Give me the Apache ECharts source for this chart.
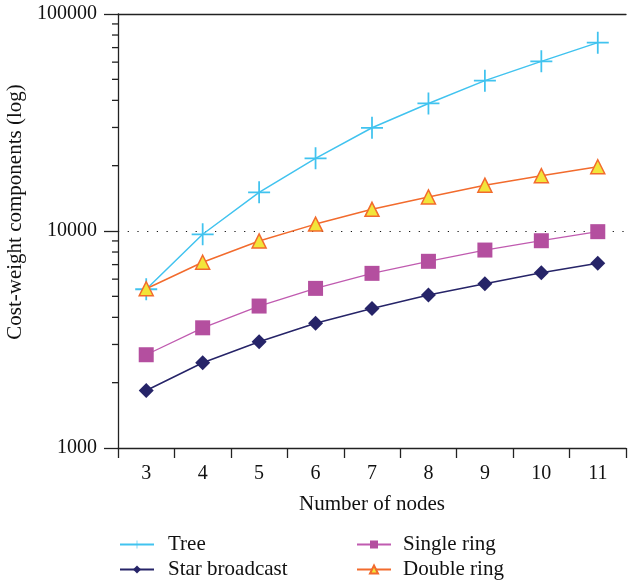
<!DOCTYPE html>
<html><head><meta charset="utf-8">
<script src="https://cdn.jsdelivr.net/npm/echarts@6/dist/echarts.min.js"></script>
<style>html,body{margin:0;padding:0;background:#fff}#c{width:629px;height:584px}</style>
</head><body><div id="c"></div>
<script>
const categories = ['3','4','5','6','7','8','9','10','11'];
const tree = [5390, 9660, 15070, 21630, 29900, 38700, 49300, 60500, 73800];
const starBroadcast = [1840, 2470, 3090, 3760, 4390, 5070, 5710, 6420, 7100];
const singleRing = [2690, 3580, 4510, 5440, 6380, 7250, 8170, 9020, 9930];
const doubleRing = [5420, 7180, 9000, 10760, 12590, 14360, 16260, 17990, 19770];
const yMinorTicks = [2000,3000,4000,5000,6000,7000,8000,9000,20000,30000,40000,50000,60000,70000,80000,90000];

const FONT = 'Liberation Serif';
const crossPath = 'path://M-0.08,-1 L0.08,-1 L0.08,-0.08 L1,-0.08 L1,0.08 L0.08,0.08 L0.08,1 L-0.08,1 L-0.08,0.08 L-1,0.08 L-1,-0.08 L-0.08,-0.08 Z';
const legendText = {fontFamily: FONT, fontSize: 21, color: '#111', padding: [0, 0, 0, 9]};

const chart = echarts.init(document.getElementById('c'));
chart.setOption({
  animation: false,
  textStyle: {fontFamily: FONT},
  grid: {left: 118, right: 3, top: 14, bottom: 136, outerBoundsMode: 'none', containLabel: false},
  legend: [
    {data: ['Tree', 'Star broadcast'], orient: 'vertical', left: 119, top: 534, padding: 0,
     itemWidth: 34, itemHeight: 10, itemGap: 4, textStyle: legendText},
    {data: ['Single ring', 'Double ring'], orient: 'vertical', left: 356, top: 534, padding: 0,
     itemWidth: 34, itemHeight: 10, itemGap: 4, textStyle: {fontFamily: FONT, fontSize: 21, color: '#111', padding: [0, 0, 0, 7]}}
  ],
  xAxis: [{
    type: 'category', data: categories, boundaryGap: true,
    name: 'Number of nodes', nameLocation: 'middle', nameGap: 46,
    nameTextStyle: {fontFamily: FONT, fontSize: 21, color: '#111'},
    axisLine: {lineStyle: {color: '#222', width: 1.3}},
    axisTick: {show: true, length: 10, lineStyle: {color: '#222', width: 1.3}},
    axisLabel: {fontFamily: FONT, fontSize: 20, color: '#111', margin: 16},
    splitLine: {show: false}
  }, {
    type: 'category', data: categories, position: 'top',
    axisLine: {lineStyle: {color: '#222', width: 1.3}},
    axisTick: {show: false}, axisLabel: {show: false}, splitLine: {show: false}
  }],
  yAxis: {
    type: 'log', logBase: 10, min: 1000, max: 100000,
    name: 'Cost-weight components (log)', nameLocation: 'middle', nameGap: 85,
    nameTextStyle: {fontFamily: FONT, fontSize: 21, color: '#111', padding: [0, 0, 0, 38]},
    axisLine: {show: true, lineStyle: {color: '#222', width: 1.3}},
    axisTick: {show: true, length: 14, lineStyle: {color: '#222', width: 1.3}},
    axisLabel: {fontFamily: FONT, fontSize: 20, color: '#111', margin: 21,
                formatter: v => String(Math.round(v))},
    splitLine: {show: true, lineStyle: {color: '#111', type: [1.2, 8.5], width: 1.2}}
  },
  series: [
    {name: 'Tree', type: 'line', data: tree, symbol: crossPath, symbolSize: 22,
     lineStyle: {color: '#41c3ef', width: 1.5}, itemStyle: {color: '#41c3ef'}, z: 3},
    {name: 'Star broadcast', type: 'line', data: starBroadcast, symbol: 'diamond', symbolSize: 15,
     lineStyle: {color: '#262468', width: 1.5}, itemStyle: {color: '#262468'}, z: 2},
    {name: 'Single ring', type: 'line', data: singleRing, symbol: 'rect', symbolSize: 15,
     lineStyle: {color: '#c05bb0', width: 1.3}, itemStyle: {color: '#b44f9f'}, z: 2},
    {name: 'Double ring', type: 'line', data: doubleRing, symbol: 'triangle', symbolSize: 14,
     lineStyle: {color: '#f26b2d', width: 1.5},
     itemStyle: {color: '#f2e53a', borderColor: '#f26b2d', borderWidth: 1.5}, z: 4},
    {name: 'minorTicks', type: 'custom', silent: true, clip: false, z: 1,
     data: yMinorTicks.map(v => [0, v]),
     renderItem: function (params, api) {
       const y = api.coord([0, api.value(1)])[1];
       const x = params.coordSys.x;
       return {type: 'line', shape: {x1: x - 6, y1: y, x2: x, y2: y},
               style: {stroke: '#222', lineWidth: 1.3}};
     }}
  ]
});
</script></body></html>
